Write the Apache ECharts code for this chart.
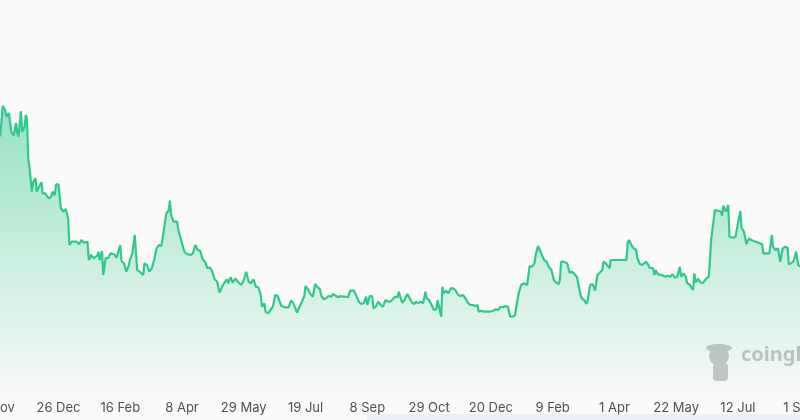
<!DOCTYPE html>
<html>
<head>
<meta charset="utf-8">
<style>
  html, body { margin: 0; padding: 0; background: #fafafa; }
  #chart { width: 800px; height: 420px; }
</style>
<script src="https://cdn.jsdelivr.net/npm/echarts@6/dist/echarts.min.js"></script>
</head>
<body>
<div id="chart"></div>
<script>
// x positions are row indexes of a daily series starting 5 Nov 2021;
// the source skips one day in Jan 2022 and one in Nov 2022
const startDate = Date.UTC(2021, 10, 5);
const skippedAfter = [80, 380];
const monthNames = ['Jan', 'Feb', 'Mar', 'Apr', 'May', 'Jun', 'Jul', 'Aug', 'Sep', 'Oct', 'Nov', 'Dec'];

const rowIndex = [
  0, 3, 5, 7, 8, 10, 11, 12, 14, 16, 17, 18, 20, 21, 23, 24, 25, 26, 27, 29,
  30, 32, 33, 35, 37, 38, 40, 43, 45, 46, 48, 49, 51, 53, 55, 57, 59, 60, 62, 63,
  66, 68, 70, 72, 75, 76, 78, 80, 83, 84, 85, 87, 88, 90, 92, 94, 97, 99, 102, 103,
  105, 107, 109, 110, 112, 114, 116, 118, 121, 122, 124, 126, 128, 130, 132, 134, 136, 138, 140, 142,
  143, 144, 146, 149, 150, 153, 155, 157, 160, 162, 164, 166, 168, 170, 172, 174, 176, 178, 180, 182,
  184, 186, 188, 190, 191, 193, 195, 197, 199, 202, 204, 206, 208, 210, 212, 214, 216, 218, 219, 221,
  222, 224, 226, 228, 230, 232, 233, 235, 238, 241, 243, 245, 248, 250, 252, 254, 255, 257, 259, 261,
  263, 265, 267, 268, 270, 272, 274, 276, 278, 280, 282, 284, 286, 288, 290, 292, 295, 297, 299, 300,
  301, 303, 305, 306, 308, 310, 311, 313, 315, 317, 319, 321, 323, 325, 327, 329, 331, 332, 334, 335,
  337, 339, 341, 343, 345, 346, 348, 350, 352, 354, 355, 357, 359, 361, 363, 364, 365, 367, 368, 369,
  371, 373, 375, 377, 379, 381, 383, 385, 387, 389, 391, 393, 395, 397, 398, 400, 402, 405, 407, 410,
  412, 414, 416, 418, 420, 422, 424, 426, 428, 429, 431, 433, 435, 436, 438, 440, 442, 444, 445, 447,
  449, 450, 452, 454, 456, 458, 460, 462, 464, 465, 466, 468, 471, 473, 475, 477, 479, 480, 482, 483,
  485, 487, 488, 490, 492, 494, 496, 498, 500, 501, 503, 504, 506, 507, 512, 516, 520, 521, 522, 524,
  526, 528, 529, 531, 533, 534, 536, 538, 539, 542, 543, 544, 546, 549, 552, 554, 556, 558, 560, 562,
  564, 565, 567, 569, 570, 572, 575, 576, 577, 579, 581, 583, 586, 588, 590, 593, 596, 598, 599, 600,
  602, 604, 605, 608, 610, 611, 612, 614, 615, 617, 619, 621, 623, 625, 627, 630, 632, 633, 636, 638,
  640, 641, 643, 645, 647, 649, 651, 653, 654, 656, 658, 660, 662, 663, 666
];

const values = [
  252, 257, 286.3, 282, 275.3, 279, 270.3, 260.3, 256.3, 269, 259, 255.3, 281, 260.3, 265.3, 277, 273.7, 234, 225.3, 200.3,
  209, 214, 200.3, 205.3, 209.7, 198.7, 198.7, 193.7, 195.3, 200.3, 197, 207.7, 207.7, 183.7, 180.3, 183, 173.7, 147, 150.3, 148.7,
  150.3, 147.7, 152, 149.3, 150.3, 132, 137, 133.7, 136.3, 140.3, 132, 141, 117, 134.3, 133.7, 138.7, 137.7, 134.3, 147, 131,
  128.7, 120.3, 126.3, 132, 138.7, 157, 122, 120.3, 117, 128.7, 127, 120.3, 123.7, 132, 143.7, 147, 146, 162, 178.7, 181.3,
  191.3, 177, 170.3, 170.3, 162, 148.7, 140.3, 138, 137, 138.7, 147, 142, 141.3, 132.7, 130.3, 123.7, 124.7, 120.3, 112.7, 110.3,
  99.3, 105.3, 109.3, 112.7, 108.7, 114.7, 109.3, 113.7, 110.3, 107, 112, 120.3, 110.3, 108.7, 112.7, 105.3, 104.7, 97, 85.3, 88.7,
  80.3, 78.7, 82, 85.3, 97, 96, 96, 86, 84.7, 84.7, 91.3, 88.7, 79.3, 85.3, 90.3, 96, 106, 102.7, 98, 95.3,
  108, 104.7, 102.7, 96, 92.7, 93.7, 96, 95.3, 98, 96, 94.7, 96, 95.3, 95.3, 94.7, 101.3, 101.3, 96, 90.3, 91.3,
  88, 88.7, 95.3, 87, 96, 96, 83.7, 85.3, 90.3, 87, 85.3, 92, 90.3, 90.3, 92.7, 95.3, 94.7, 100.3, 92, 89.3,
  92.7, 98, 93.7, 89.3, 88, 90.3, 88.7, 90.3, 88.7, 100.3, 93.7, 92, 87, 82, 82.7, 92, 90.3, 75.3, 105.3, 98.7,
  101.3, 98.7, 103.7, 103.7, 101.3, 97, 96, 97, 93.7, 89.3, 87, 87, 86, 87, 80.3, 81.3, 80.3, 80.3, 80.3, 81.3,
  82.7, 82, 85.3, 84.7, 86, 85.3, 75.3, 75.3, 77, 85.3, 98.7, 107, 108.7, 109.3, 107, 126, 125.3, 128.7, 137, 146,
  140.3, 140.3, 132, 130.3, 124.7, 122, 112, 109.3, 108, 112, 130.3, 130.3, 128.7, 119.3, 120.3, 118, 115.3, 113.7, 97, 93.7,
  92, 88, 92, 107, 108, 101.3, 117, 119.3, 122, 130.3, 128.7, 130.3, 123.7, 132, 132, 132, 132, 149.3, 152, 147,
  143.7, 142, 133.7, 128, 127, 128.7, 130.3, 127, 124.3, 123.7, 117, 122, 117.7, 117, 115.3, 116.3, 115.3, 117.7, 114.3, 115.3,
  125.3, 115.3, 118.7, 115.3, 108.7, 107.7, 102, 118.7, 109.7, 113, 109.7, 108.7, 113.7, 115.3, 153.7, 182, 181, 180.3, 176.3, 186.3,
  180.3, 187, 155.3, 154.3, 155.3, 162, 160.3, 181, 164.3, 160.3, 147.7, 153.7, 152, 151, 150.3, 148.7, 147.7, 138.7, 138.7, 138.7,
  157, 145.3, 142, 143.7, 130.3, 143.7, 145.3, 144.3, 127.7, 128.7, 131, 140.3, 126.3, 125.3, 126
];

const seriesData = rowIndex.map((d, i) => [d, values[i]]);

function formatRow(idx) {
  let d = Math.round(idx);
  skippedAfter.forEach(s => { if (idx > s) d += 1; });
  const dt = new Date(startDate + d * 86400000);
  return dt.getUTCDate() + ' ' + monthNames[dt.getUTCMonth()];
}

const chart = echarts.init(document.getElementById('chart'));

const option = {
  backgroundColor: '#fafafa',
  animation: false,
  grid: {
    left: -3.3,
    right: 0.3,
    top: 0,
    bottom: 28,
    outerBoundsMode: 'none',
    containLabel: false
  },
  xAxis: {
    type: 'value',
    min: 0,
    max: 663,
    interval: 51,
    axisLine: { show: false },
    axisTick: { show: false },
    splitLine: { show: false },
    axisLabel: {
      color: '#505050',
      fontFamily: 'Inter',
      fontSize: 13,
      margin: 10,
      showMinLabel: true,
      showMaxLabel: true,
      hideOverlap: false,
      formatter: formatRow
    }
  },
  yAxis: {
    type: 'value',
    min: 0,
    max: 392,
    show: false,
    splitLine: { show: false }
  },
  series: [
    {
      type: 'line',
      data: seriesData,
      symbol: 'none',
      lineStyle: {
        color: '#30c98a',
        width: 2.2
      },
      areaStyle: {
        color: new echarts.graphic.LinearGradient(0, 0, 0, 1, [
          { offset: 0, color: 'rgba(48, 201, 138, 0.7)' },
          { offset: 1, color: 'rgba(48, 201, 138, 0.03)' }
        ])
      }
    }
  ],
  graphic: [
    // watermark
    {
      type: 'group',
      left: 706,
      top: 344,
      children: [
        { type: 'ellipse', shape: { cx: 13, cy: 4, rx: 13, ry: 4 }, style: { fill: '#c6c6c6' } },
        { type: 'circle', shape: { cx: 13, cy: 12, r: 10 }, style: { fill: '#c6c6c6' } },
        { type: 'rect', shape: { x: 7, y: 19, width: 15, height: 18, r: 4 }, style: { fill: '#c6c6c6' } }
      ]
    },
    {
      type: 'text',
      left: 741,
      top: 345,
      style: {
        text: 'coinglass',
        fill: '#c4c4c4',
        fontFamily: 'Noto Sans',
        fontWeight: 'bold',
        fontSize: 20
      }
    },
    // edge of the zoom bar at the bottom
    {
      type: 'rect',
      shape: { x: 367, y: 414, width: 433, height: 6 },
      style: { fill: 'rgba(140, 160, 230, 0.12)' }
    }
  ]
};

chart.setOption(option);
</script>
</body>
</html>
